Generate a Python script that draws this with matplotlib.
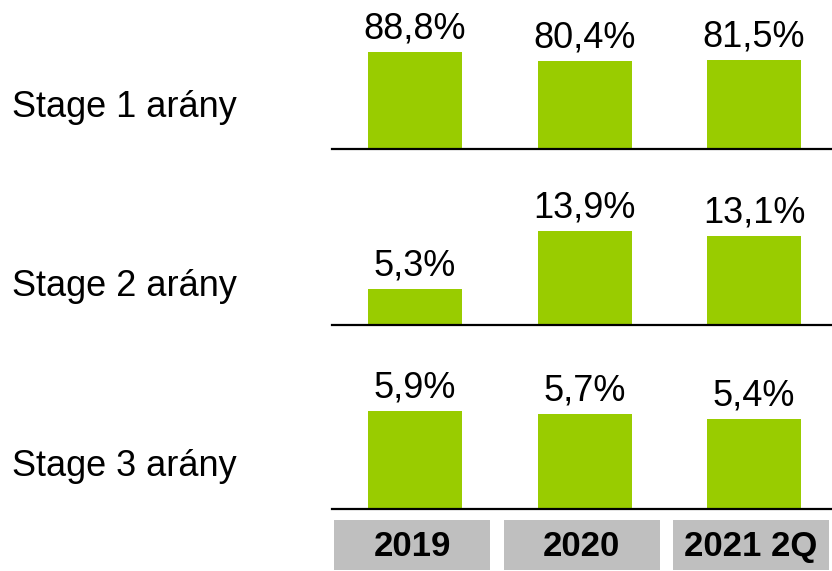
import matplotlib
matplotlib.use("Agg")
import matplotlib.pyplot as plt

plt.rcParams['font.family'] = ['Liberation Sans', 'DejaVu Sans']

# data
years = ["2019", "2020", "2021 2Q"]
row_labels = ["Stage 1 arány", "Stage 2 arány", "Stage 3 arány"]
stage1 = [88.8, 80.4, 81.5]
stage2 = [5.3, 13.9, 13.1]
stage3 = [5.9, 5.7, 5.4]
rows = [stage1, stage2, stage3]

W, H = 832, 571
fig = plt.figure(figsize=(W / 100, H / 100), dpi=100)

green = "#99CC00"
x = list(range(len(years)))
xlim = (-0.49, 2.46)
ax_left, ax_w = 332 / W, 500 / W

# (baseline px, axes top px, top of tallest bar px, row label text baseline px)
layout = [(149, 0, 52, 117), (325, 160, 231, 296), (509, 340, 411, 476)]

for vals, label, (base, top, maxtop, lab_y) in zip(rows, row_labels, layout):
    ax = fig.add_axes([ax_left, (H - base) / H, ax_w, (base - top) / H])
    scale = (base - maxtop) / max(vals)
    ax.set_ylim(0, (base - top) / scale)
    ax.set_xlim(*xlim)
    ax.bar(x, vals, width=0.555, color=green)
    for xi, v in zip(x, vals):
        ax.annotate(f"{v:.1f}%".replace(".", ","), (xi, v), xytext=(0, 4),
                    textcoords="offset points", ha="center", va="bottom",
                    fontsize=26)
    for s in ["top", "right", "left"]:
        ax.spines[s].set_visible(False)
    ax.spines["bottom"].set_linewidth(1.6)
    ax.set_xticks([])
    ax.set_yticks([])
    ax.patch.set_alpha(0)
    fig.text(12 / W, 1 - lab_y / H, label, fontsize=26, va="baseline", ha="left")

# year boxes
axy = fig.add_axes([ax_left - 3 / W, 1 - 570 / H, ax_w, 50 / H])
axy.set_xlim(*xlim)
axy.set_ylim(0, 1)
axy.bar(x, [1] * len(years), width=0.92, color="#BFBFBF")
for xi, yr in zip(x, years):
    axy.text(xi, 0.47, yr, ha="center", va="center", fontsize=25, fontweight="bold")
axy.axis("off")

fig.savefig("out.png", dpi=100)
